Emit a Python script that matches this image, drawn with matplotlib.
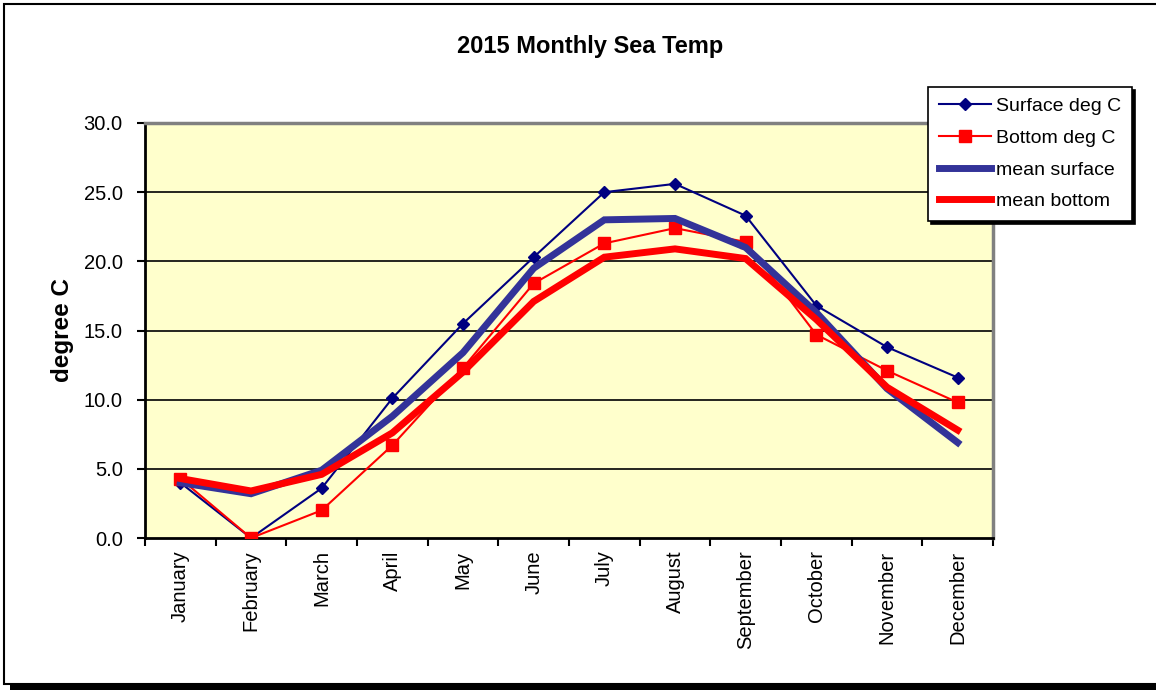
import matplotlib.pyplot as plt
from matplotlib.patches import Rectangle

plt.rcParams["font.family"] = ["Liberation Sans", "DejaVu Sans"]

months = ["January", "February", "March", "April", "May", "June",
          "July", "August", "September", "October", "November", "December"]

surface = [4.0, 0.0, 3.6, 10.1, 15.5, 20.3, 25.0, 25.6, 23.3, 16.8, 13.8, 11.6]
bottom = [4.3, 0.0, 2.0, 6.7, 12.3, 18.4, 21.3, 22.4, 21.4, 14.7, 12.1, 9.8]
mean_surface = [4.0, 3.2, 4.9, 8.8, 13.4, 19.5, 23.0, 23.1, 21.0, 16.3, 10.8, 6.9]
mean_bottom = [4.3, 3.4, 4.6, 7.6, 12.0, 17.1, 20.3, 20.9, 20.2, 15.8, 10.9, 7.8]

y_ticks = [0, 5, 10, 15, 20, 25, 30]

fig = plt.figure(figsize=(11.56, 6.9), dpi=100)

# outer chart frame with shadow along the bottom
fig.patches.append(Rectangle((10 / 1156, 0), 1.1, 5 / 690, transform=fig.transFigure,
                             facecolor="black", edgecolor="none", zorder=-3))
fig.patches.append(Rectangle((4 / 1156, 6 / 690), 1.1, 680 / 690, transform=fig.transFigure,
                             facecolor="white", edgecolor="black", linewidth=1.5, zorder=-2))

ax = fig.add_axes([145 / 1156, 1 - 538 / 690, 848 / 1156, 415 / 690])
ax.set_facecolor("#FFFFCC")

x = list(range(len(months)))

ax.plot(x, surface, color="#000080", linewidth=1.5, marker="D", markersize=6,
        label="Surface deg C", zorder=3)
ax.plot(x, bottom, color="#FF0000", linewidth=1.5, marker="s", markersize=9,
        label="Bottom deg C", zorder=4)
ax.plot(x, mean_surface, color="#333399", linewidth=5, solid_joinstyle="miter",
        label="mean surface", zorder=5)
ax.plot(x, mean_bottom, color="#FF0000", linewidth=5, solid_joinstyle="miter",
        label="mean bottom", zorder=6)

ax.set_xlim(-0.5, len(months) - 0.5)
ax.set_ylim(0, 30)

ax.set_yticks(y_ticks)
ax.set_yticklabels([f"{v:.1f}" for v in y_ticks])
for v in y_ticks[1:-1]:
    ax.axhline(v, color="black", linewidth=1.2, zorder=1)

ax.set_xticks(x)
ax.set_xticklabels(months, rotation=90)
ax.set_xticks([i - 0.5 for i in range(len(months) + 1)], minor=True)
ax.tick_params(axis="x", which="major", length=0, pad=9, labelsize=14.5)
ax.tick_params(axis="x", which="minor", length=6, width=1.5, direction="out")
ax.tick_params(axis="y", which="major", length=6, width=1.5, direction="out",
               pad=10, labelsize=14.5)

ax.spines["left"].set_color("black")
ax.spines["left"].set_linewidth(2)
ax.spines["bottom"].set_color("black")
ax.spines["bottom"].set_linewidth(2)
ax.spines["top"].set_color("#808080")
ax.spines["top"].set_linewidth(2.5)
ax.spines["right"].set_color("#808080")
ax.spines["right"].set_linewidth(2.5)

ax.set_ylabel("degree C", fontsize=17.5, fontweight="bold")
ax.yaxis.set_label_coords((74 - 145) / 848, 0.5)

fig.text(590 / 1156, 1 - 47 / 690, "2015 Monthly Sea Temp", ha="center", va="center",
         fontsize=17, fontweight="bold")

leg = ax.legend(loc="upper left", bbox_to_anchor=(928 / 1156, 1 - 87 / 690),
                bbox_transform=fig.transFigure, borderaxespad=0, fancybox=False,
                shadow={"color": "black", "alpha": 1}, framealpha=1,
                edgecolor="black", fontsize=14, handlelength=2.7,
                handletextpad=0.25, labelspacing=0.72, borderpad=0.55)
leg.get_frame().set_linewidth(1.2)

fig.savefig("out.png", dpi=100)
